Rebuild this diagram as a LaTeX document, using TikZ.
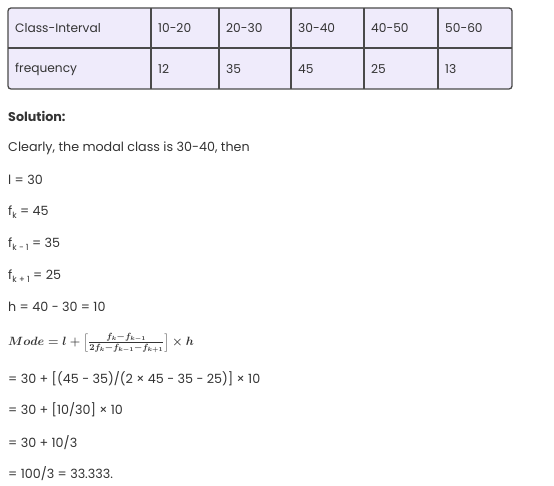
\documentclass[tikz,border=0pt]{standalone}
\usepackage{fontspec}
\setmainfont{Poppins}
\usetikzlibrary{positioning}
\definecolor{cellfill}{HTML}{EFEBFB}
\definecolor{rulegray}{HTML}{4A4A4A}
\definecolor{ink}{HTML}{333333}
\newcommand{\sbs}[1]{\raisebox{-2.6pt}{\fontsize{8.5}{9}\selectfont #1}}
\begin{document}
\begin{tikzpicture}[x=1pt,y=-1pt,
        cell/.style={anchor=west,inner sep=0pt,text=ink,font=\fontsize{12.2}{14}\selectfont},
        line/.style={anchor=west,inner sep=0pt,text=ink,font=\fontsize{12.7}{14}\selectfont},
        frame/.style={draw=rulegray,line width=1.3pt}]
    \useasboundingbox (0,0) rectangle (554,486);
    % table
    \draw[frame,fill=cellfill,rounded corners=3pt] (8,8) rectangle (512,89);
    \draw[frame] (8,48) -- (512,48);
    \foreach \x in {151,219,291,364,438}
        \draw[frame] (\x,8) -- (\x,89);
    \foreach \lab/\x [count=\i] in {Class-Interval/15,10-20/158,20-30/226,30-40/298,40-50/371,50-60/445}
        \node[cell] (head\i) at (\x,28) {\lab};
    \foreach \val/\x [count=\i] in {frequency/15,12/158,35/226,45/298,25/371,13/445}
        \node[cell] (freq\i) at (\x,69) {\val};
    % solution
    \node[line,font=\fontsize{12.7}{14}\selectfont\bfseries] (sol) at (8,116) {Solution:};
    \node[line] (clear) at (8,148) {Clearly, the modal class is 30-40, then};
    \node[line] (low) at (8,180) {l = 30};
    \node[line] (fk) at (8,212) {f\sbs{k} = 45};
    \node[line] (fkm) at (8,244) {f\sbs{k − 1} = 35};
    \node[line] (fkp) at (8,276) {f\sbs{k + 1} = 25};
    \node[line] (width) at (8,307) {h = 40 − 30 = 10};
    \node[line,font=\fontsize{12.5}{14}\selectfont\boldmath] (mode) at (8,343)
        {$Mode=l+\left[\frac{f_k-f_{k-1}}{2f_k-f_{k-1}-f_{k+1}}\right]\times h$};
    \node[line] (step1) at (8,379) {= 30 + [(45 − 35)/(2 × 45 − 35 − 25)] × 10};
    \node[line] (step2) at (8,410) {= 30 + [10/30] × 10};
    \node[line] (step3) at (8,443) {= 30 + 10/3};
    \node[line] (step4) at (8,474) {= 100/3 = 33.333.};
\end{tikzpicture}
\end{document}
